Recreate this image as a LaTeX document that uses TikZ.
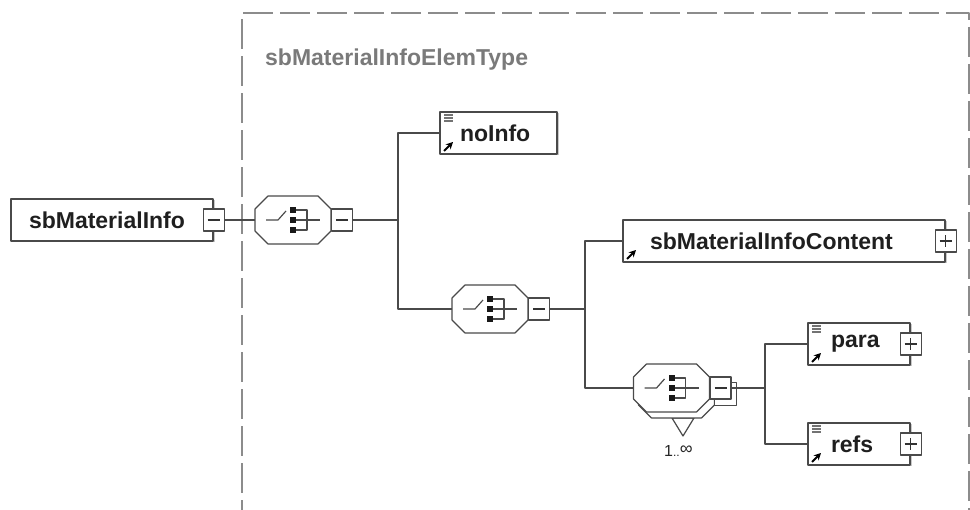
\documentclass[tikz,border=0pt]{standalone}
\usepackage{fontspec}
\setmainfont{Liberation Sans}
\usetikzlibrary{shadows,arrows.meta}

\definecolor{linegray}{HTML}{4A4A4A}
\definecolor{framegray}{HTML}{8C8C8C}
\definecolor{typegray}{HTML}{7A7A7A}

\tikzset{
	conn/.style={draw=linegray, line width=1.2pt},
	elem/.style={draw=linegray, line width=1.3pt, fill=white, minimum height=42pt, align=left,
		font=\fontsize{23}{25}\selectfont\bfseries, text=black!88,
		drop shadow={shadow xshift=1.5pt, shadow yshift=-1.5pt, fill=black!35, opacity=0.6}},
	refelem/.style={elem, path picture={
		\draw[-{Stealth[length=7pt,width=7pt]}, line width=1.8pt, black] ([shift={(4,-3)}]path picture bounding box.south west) -- ++(9,-9);}},
	docelem/.style={elem, path picture={
		\draw[-{Stealth[length=7pt,width=7pt]}, line width=1.8pt, black] ([shift={(4,-3)}]path picture bounding box.south west) -- ++(9,-9);
		\foreach \dy in {3,6,9}
			\draw[black!55, line width=1.1pt] ([shift={(4,\dy)}]path picture bounding box.north west) -- ++(9,0);}},
	btn/.style={draw=linegray, line width=1.1pt, fill=white, minimum width=21pt, minimum height=22pt, inner sep=0pt},
	minusbtn/.style={btn, path picture={
		\draw[line width=1.4pt, black!80] ([xshift=-6pt]path picture bounding box.center) -- ([xshift=6pt]path picture bounding box.center);}},
	plusbtn/.style={btn, path picture={
		\draw[line width=1.4pt, black!80] ([xshift=-6pt]path picture bounding box.center) -- ([xshift=6pt]path picture bounding box.center)
			([yshift=-6pt]path picture bounding box.center) -- ([yshift=6pt]path picture bounding box.center);}},
	octline/.style={draw=linegray, line width=1.2pt},
	pics/choiceback/.style={code={
		\draw[octline, fill=white] (-38,-11) -- (-25,-24) -- (25,-24) -- (38,-11) -- (38,11) -- (25,24) -- (-25,24) -- (-38,11) -- cycle;
		\draw[octline, fill=white] (38,-11.5) rectangle (60,11.5);
	}},
	pics/choicegrp/.style={code={
		\draw[octline, fill=white] (-38,-11) -- (-25,-24) -- (25,-24) -- (38,-11) -- (38,11) -- (25,24) -- (-25,24) -- (-38,11) -- cycle;
		\draw[octline] (-27,0) -- (-15,0) -- (-7,-9);
		\foreach \dy in {-10,0,10}
			\fill[black!90] (-3,\dy-3) rectangle (3,\dy+3);
		\draw[octline] (3,-10) -- (14,-10) -- (14,10) -- (3,10) (3,0) -- (27,0);
		\node[minusbtn] (-btn) at (49,0) {};
		\coordinate (-in) at (-38,0);
	}}
}

\begin{document}
\begin{tikzpicture}[x=1pt, y=-1pt, line join=round]
	\useasboundingbox (0,0) rectangle (970,510);
	\clip (0,0) rectangle (970,510);
	\fill[white] (0,0) rectangle (970,510);

	% complex type frame
	\draw[framegray, line width=1.2pt, dash pattern=on 30pt off 7pt] (242,530) -- (242,13) -- (969,13) -- (969,530);
	\node[font=\fontsize{23}{25}\selectfont\bfseries, text=typegray, anchor=west, inner sep=0pt] (typelbl) at (265,60) {sbMaterialInfoElemType};

	% elements
	\node[elem, inner xsep=18pt, text width=166pt] (root) at (112,220) {sbMaterialInfo};
	\node[minusbtn] (rootbtn) at (root.east) {};
	\node[docelem, inner xsep=20pt, text width=77pt] (noinfo) at (498.5,133) {noInfo};
	\node[refelem, inner xsep=27pt, text width=268pt] (content) at (784,241) {sbMaterialInfoContent};
	\node[plusbtn] (contentbtn) at (content.east) {};
	\node[docelem, inner xsep=23pt, text width=56pt] (para) at (859,344) {para};
	\node[plusbtn] (parabtn) at (para.east) {};
	\node[docelem, inner xsep=23pt, text width=56pt] (refs) at (859,444) {refs};
	\node[plusbtn] (refsbtn) at (refs.east) {};

	% choices
	\pic (ch1) at (293,220) {choicegrp};
	\pic (ch2) at (490,309) {choicegrp};
	\draw[octline, fill=white] (672,418) -- (694,418) -- (683,436) -- cycle;
	\pic at (676.5,394) {choiceback};
	\pic (ch3) at (671.5,388) {choicegrp};
	\node[inner sep=0pt, text=black!85, anchor=west] (mult) at (664,451)
		{\fontsize{16}{16}\selectfont 1{\fontsize{12}{12}\selectfont ..}\raisebox{2pt}{\fontsize{18}{18}\selectfont ∞}};

	\coordinate (j1) at (398,220);
	\coordinate (j2) at (585,309);
	\coordinate (j3) at (765,388);

	% connectors
	\draw[conn] (rootbtn.east) -- (ch1-in);
	\draw[conn] (ch1-btn.east) -- (j1);
	\draw[conn] (noinfo.west) -| (j1) |- (ch2-in);
	\draw[conn] (ch2-btn.east) -- (j2);
	\draw[conn] (content.west) -| (j2) |- (ch3-in);
	\draw[conn] (ch3-btn.east) -- (j3);
	\draw[conn] (para.west) -| (j3) |- (refs.west);
\end{tikzpicture}
\end{document}
